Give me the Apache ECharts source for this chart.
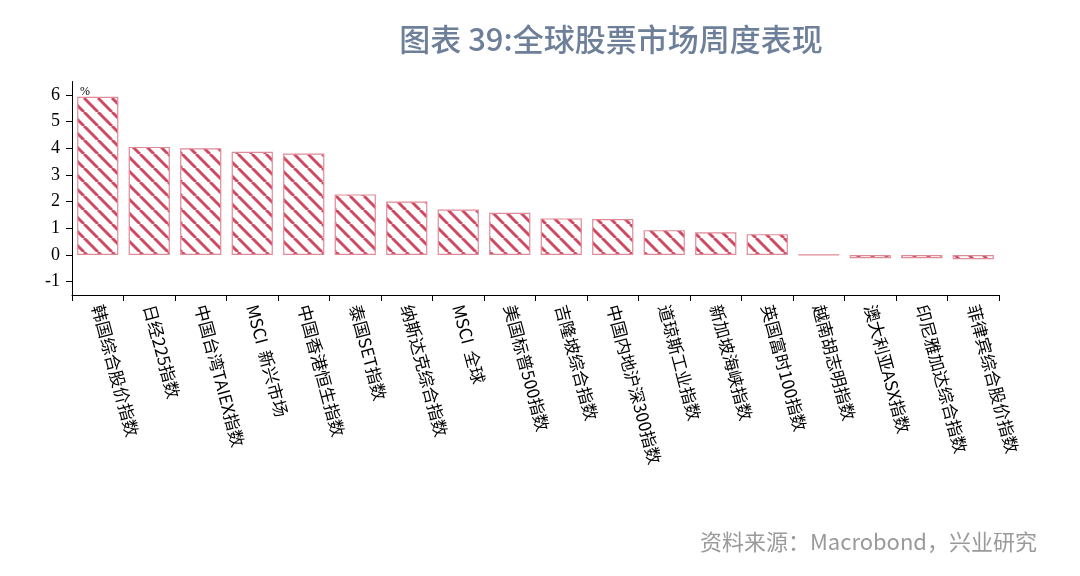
<!DOCTYPE html>
<html><head><meta charset="utf-8">
<script src="https://cdn.jsdelivr.net/npm/echarts@6/dist/echarts.min.js"></script>
<style>html,body{margin:0;padding:0;background:#fff}#c{width:1080px;height:576px}</style>
</head><body><div id="c"></div>
<script>
const categories = ['韩国综合股价指数','日经225指数','中国台湾TAIEX指数','MSCI  新兴市场','中国香港恒生指数','泰国SET指数','纳斯达克综合指数','MSCI  全球','美国标普500指数','吉隆坡综合指数','中国内地沪深300指数','道琼斯工业指数','新加坡海峡指数','英国富时100指数','越南胡志明指数','澳大利亚ASX指数','印尼雅加达综合指数','菲律宾综合股价指数'];
const values = [5.93, 4.05, 4.0, 3.87, 3.8, 2.27, 2.0, 1.7, 1.58, 1.37, 1.35, 0.93, 0.85, 0.78, 0.01, -0.12, -0.12, -0.16];
const yTicks = [-1, 0, 1, 2, 3, 4, 5, 6];

function makePattern() {
  const s = 14;
  const cv = document.createElement('canvas');
  cv.width = s; cv.height = s;
  const ctx = cv.getContext('2d');
  ctx.fillStyle = '#ffffff';
  ctx.fillRect(0, 0, s, s);
  ctx.strokeStyle = '#cf4a60';
  ctx.lineWidth = 3;
  for (const k of [-s, 0, s]) {
    ctx.beginPath();
    ctx.moveTo(k, 0);
    ctx.lineTo(k + s, s);
    ctx.stroke();
  }
  return cv;
}

const chart = echarts.init(document.getElementById('c'));
chart.setOption({
  animation: false,
  backgroundColor: '#fff',
  title: [{
    text: '图表 39:全球股票市场周度表现',
    left: 606, top: 19, textAlign: 'center',
    textStyle: {fontFamily: 'Noto Sans CJK SC', fontSize: 31, fontWeight: 500, color: '#6d7f99'}
  }, {
    text: '资料来源：Macrobond，兴业研究',
    right: 38, top: 526,
    textStyle: {fontFamily: 'Noto Sans CJK SC', fontSize: 22, fontWeight: 'normal', color: '#9a9a9a'}
  }],
  graphic: [{
    type: 'text', left: 80, top: 86,
    style: {text: '%', font: '12px "Liberation Serif"', fill: '#000'}
  }],
  grid: {left: 72, right: 81, top: 81.5, bottom: 281, containLabel: false},
  xAxis: {
    type: 'category',
    data: categories,
    axisLine: {onZero: false, lineStyle: {color: '#000', width: 1}},
    axisTick: {show: true, alignWithLabel: false, length: 6, lineStyle: {color: '#000'}},
    axisLabel: {
      interval: 0, rotate: -75, margin: 10,
      fontFamily: 'Noto Sans CJK SC', fontSize: 17, color: '#000'
    }
  },
  yAxis: {
    type: 'value',
    min: -1.5, max: 6.5,
    splitLine: {show: false},
    axisLine: {show: true, lineStyle: {color: '#000', width: 1}},
    axisTick: {show: true, length: 6, customValues: yTicks, lineStyle: {color: '#000'}},
    axisLabel: {
      customValues: yTicks, margin: 12,
      fontFamily: 'Liberation Serif', fontSize: 18, color: '#000'
    }
  },
  series: [{
    type: 'bar',
    data: values,
    barCategoryGap: '20%',
    itemStyle: {
      color: {image: makePattern(), repeat: 'repeat'},
      borderColor: '#e08a98',
      borderWidth: 1.2
    }
  }]
});
</script>
</body></html>
